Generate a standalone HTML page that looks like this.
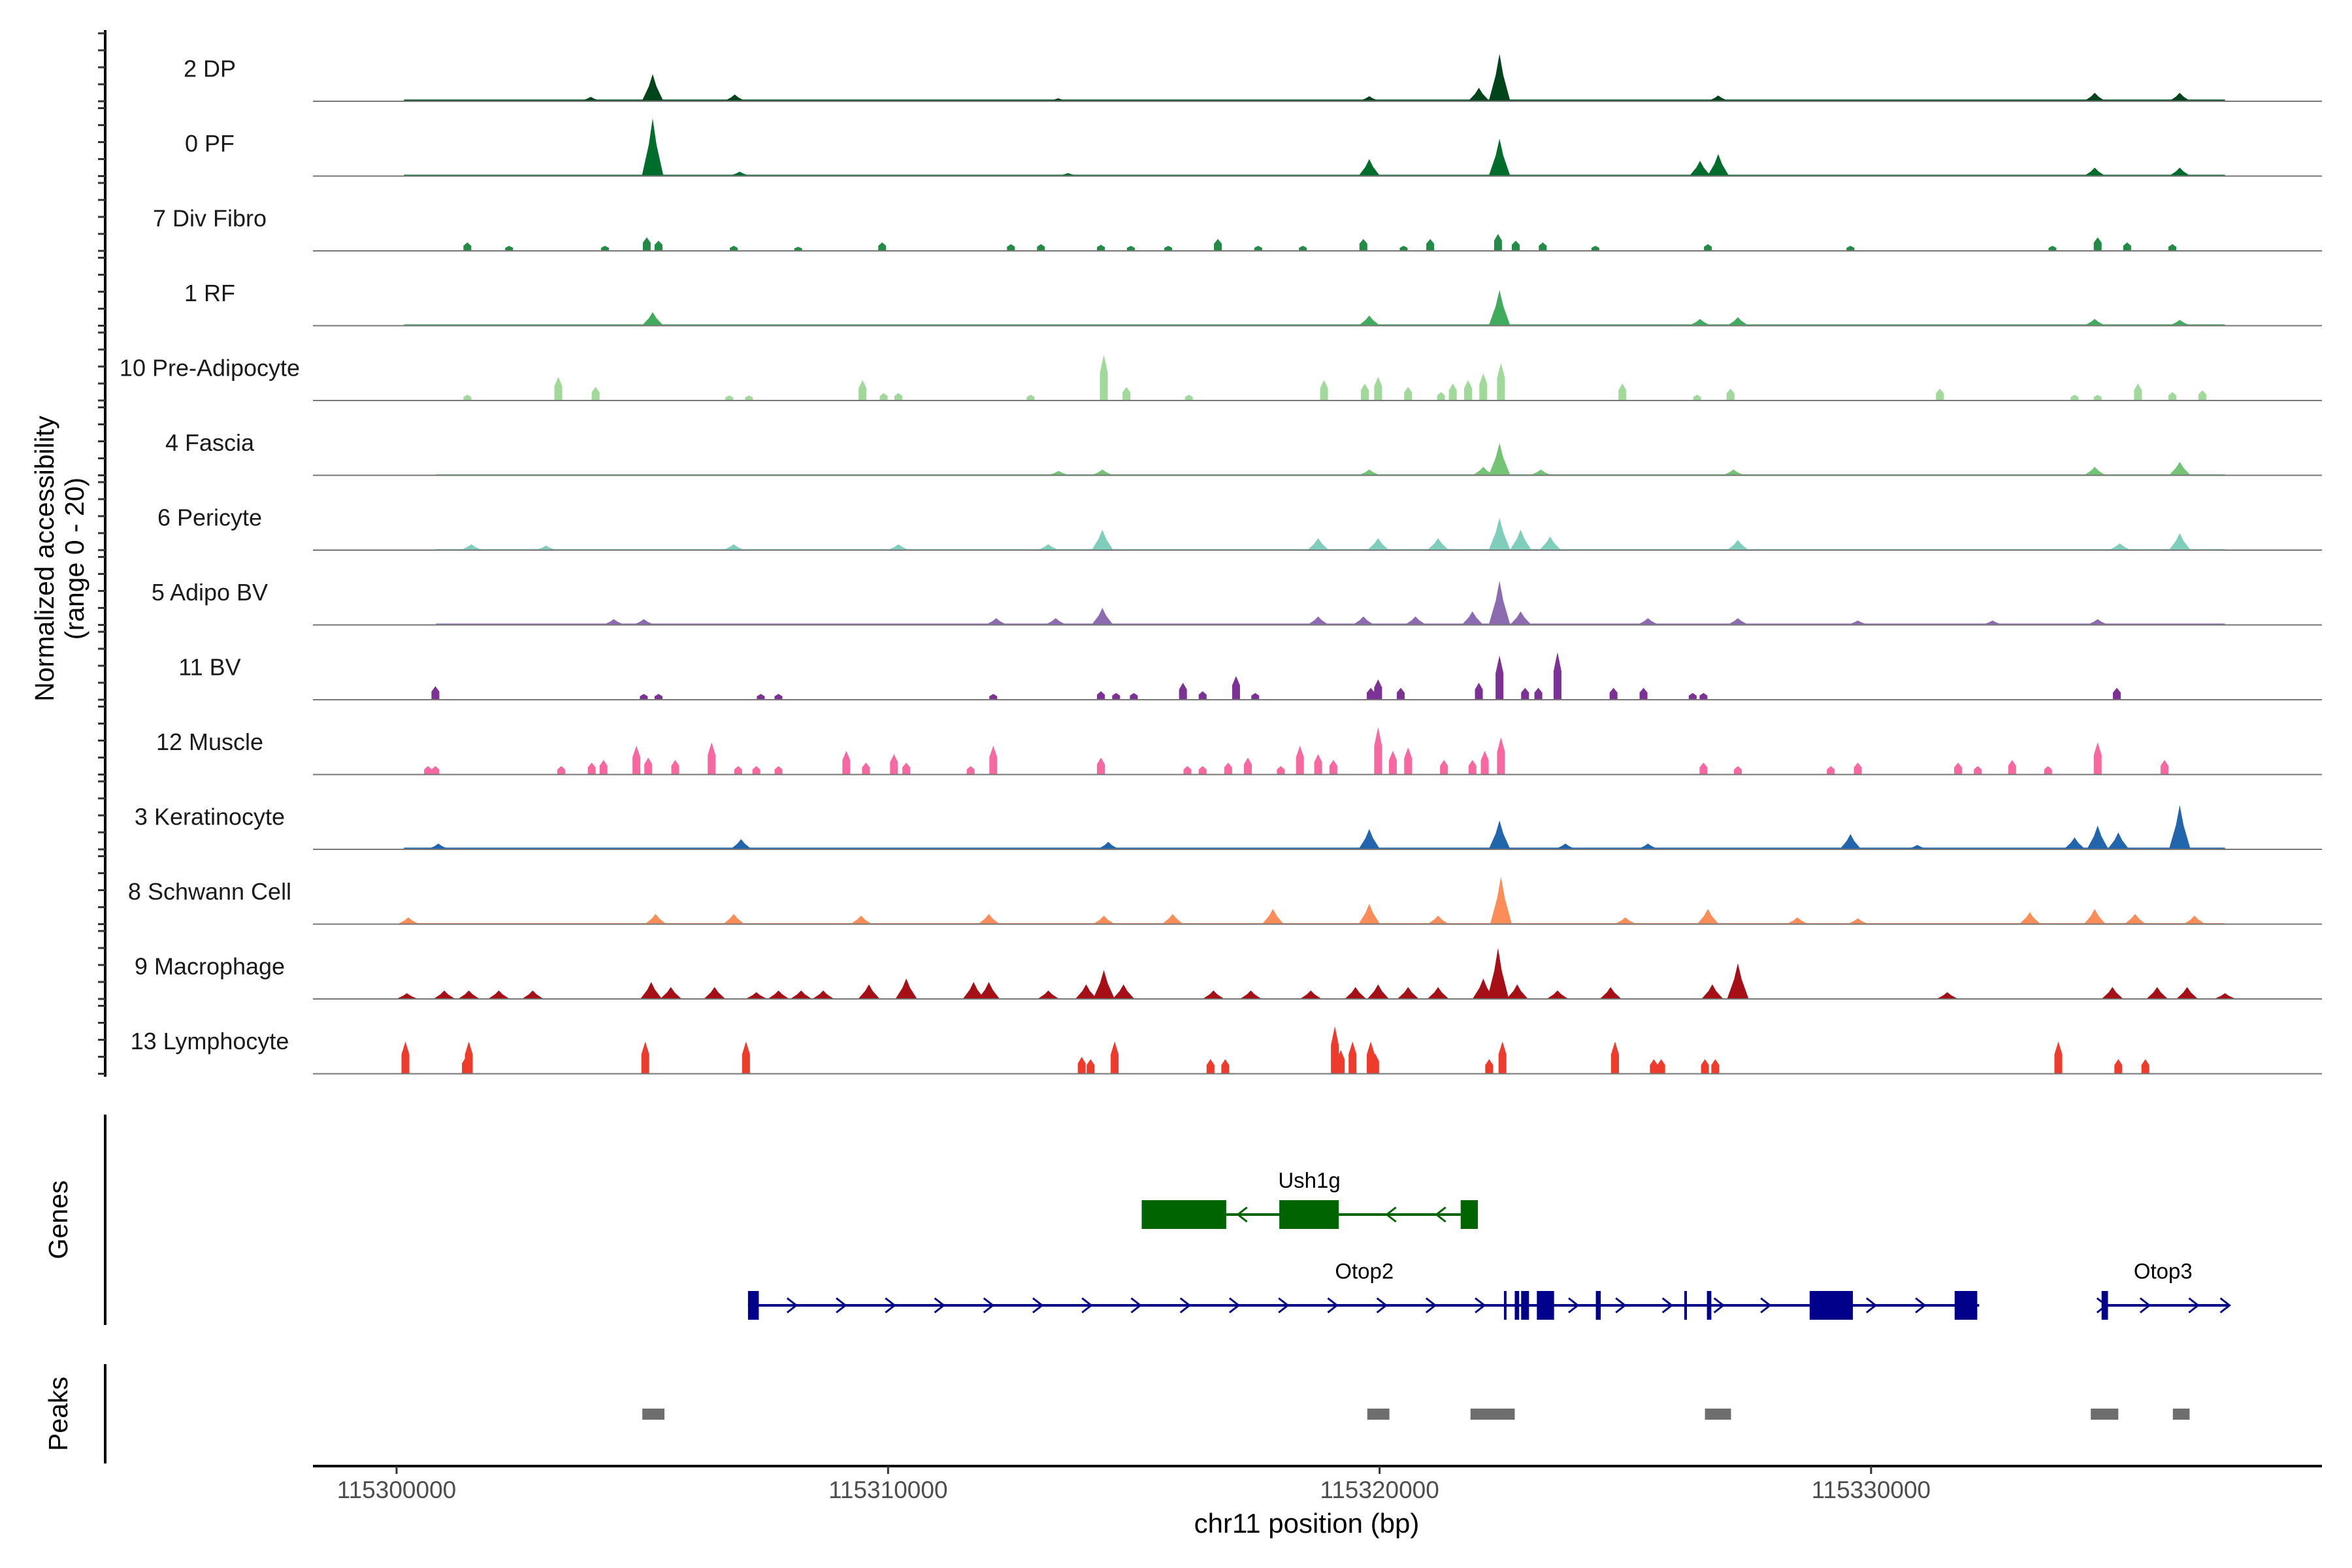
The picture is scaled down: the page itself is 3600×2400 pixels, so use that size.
<!DOCTYPE html>
<html><head><meta charset="utf-8"><style>
html,body{margin:0;padding:0;background:#fff}
svg{display:block;font-family:"Liberation Sans",sans-serif}
</style></head><body>
<svg id="chart" width="3600" height="2400" viewBox="0 0 3600 2400" xmlns="http://www.w3.org/2000/svg">
<g id="tracks"></g>
<g id="genes"></g>
<g id="peaks"></g>
<g id="axes"></g>
</svg>
<script>
// ---- data (positions in kb offset from 115300000, heights in accessibility units 0-20) ----
const trackNames = ["2 DP","0 PF","7 Div Fibro","1 RF","10 Pre-Adipocyte","4 Fascia","6 Pericyte","5 Adipo BV","11 BV","12 Muscle","3 Keratinocyte","8 Schwann Cell","9 Macrophage","13 Lymphocyte"];
const trackColors = ["#00441b","#006d2c","#238b45","#41ab5d","#a1d99b","#74c476","#7fcdbb","#8c6bb1","#7b3294","#f768a1","#2166ac","#fc8d59","#a50f15","#ef3b2c"];
const bgRanges = [[0.15,37.2,0.5],[0.15,37.2,0.4],null,[0.15,37.2,0.4],null,[0.8,37.2,0.3],[0.8,37.2,0.3],[0.8,37.2,0.4],null,null,[0.15,37.2,0.5],[0.15,37.2,0.3],null,null];
const pos0 = [3.95,5.21,6.88,13.46,19.79,22.02,22.44,26.89,34.55,36.28];
const val0 = [1.3,8,2,0.9,1.5,4,14,1.7,2.5,2.5];
const pos1 = [5.21,6.98,13.66,19.79,22.44,26.52,26.89,34.55,36.28];
const val1 = [17,1.3,0.9,5,11,4.5,6.5,2.5,2.5];
const pos2 = [1.44,2.29,4.24,5.09,5.33,6.86,8.17,9.88,12.5,13.11,14.33,14.94,15.7,16.71,17.53,18.44,19.67,20.49,21.03,22.41,22.77,23.32,24.39,26.68,29.58,33.69,34.61,35.21,36.13];
const val2 = [2.5,1.5,1.5,4,3,1.5,1.2,2.5,2,2,1.8,1.5,1.5,3.5,1.5,1.5,3.5,1.5,3.5,5,3,2.5,1.5,2,1.5,1.5,4,2.5,2];
const pos3 = [5.21,19.79,22.44,26.52,27.29,34.55,36.28];
const val3 = [4,3,10.5,2,2.5,2,1.7];
const pos4 = [1.44,3.29,4.05,6.77,7.17,9.48,9.91,10.21,12.9,14.39,14.85,16.12,18.87,19.7,19.97,20.58,21.25,21.49,21.8,22.11,22.47,24.94,26.46,27.14,31.4,34.14,34.61,35.43,36.13,36.74];
const val4 = [1.7,7,4,1.5,1.5,6,2.2,2.2,1.7,13.5,4,1.7,6,5,7,4,2.5,5,6,8,11,5,1.7,3.5,3.5,1.7,1.7,5,2.5,3];
const pos5 = [13.47,14.36,19.79,22.11,22.44,23.28,27.2,34.55,36.28];
const val5 = [1.3,1.7,1.7,2.5,9.5,1.7,1.7,2.5,4];
const pos6 = [1.52,3.04,6.86,10.21,13.26,14.36,18.75,19.97,21.19,22.44,22.87,23.47,27.29,35.06,36.28];
const val6 = [1.7,1.3,1.7,1.7,1.7,6,3.5,3.5,3.5,9.5,6,4,3,2,5];
const pos7 = [4.42,5.03,12.2,13.41,14.36,18.75,19.67,20.73,21.89,22.44,22.87,25.46,27.29,29.73,32.47,34.61];
const val7 = [1.7,1.7,2,2,5,2.5,2.5,2.5,4,13,4,2,2,1.3,1.3,1.7];
const pos8 = [0.79,5.03,5.33,7.41,7.77,12.14,14.33,14.64,15.0,16.0,16.4,17.08,17.47,19.82,19.97,20.43,22.02,22.44,22.96,23.23,23.62,24.76,25.37,26.37,26.59,35.0];
const val8 = [4,1.7,1.7,1.7,1.7,1.7,2.5,2,2,5,2.5,7,2,3.5,6,3.5,5,13,3.5,3.5,14,3.5,3.5,2,2,3.5];
const pos9 = [0.64,0.79,3.35,3.97,4.21,4.88,5.12,5.67,6.41,6.95,7.32,7.77,9.15,9.55,10.12,10.37,11.68,12.14,14.33,16.09,16.4,16.92,17.32,17.99,18.38,18.75,19.06,19.97,20.27,20.58,21.31,21.89,22.14,22.47,26.59,27.29,29.18,29.73,31.77,32.17,32.87,33.6,34.61,35.97];
const val9 = [2.5,2.5,2.5,3.5,4.3,8.5,5,4.3,9.5,2.5,2.5,2.5,7,3.5,6,3.5,2.5,8.5,5,2.5,2.5,3.5,5,2.5,8.5,6,4.3,14,7,8,4.3,4.3,7,11,3.5,2.5,2.5,3.5,3.5,2.5,4.3,2.5,9.5,4.3];
const pos10 = [0.85,7.01,14.48,19.79,22.44,23.78,25.46,29.58,30.94,34.14,34.61,35.03,36.28];
const val10 = [1.7,3,2.2,6,8.5,1.7,1.7,4.5,1.3,3.5,7,5,13];
const pos11 = [0.24,5.27,6.86,9.45,12.05,14.39,15.79,17.83,19.79,21.19,22.47,25.0,26.68,28.5,29.73,33.23,34.55,35.37,36.58];
const val11 = [2,3,3,2.5,3,2.5,3,4.5,6,2.5,14,2,4.5,2,1.7,3.5,4.5,3,2.5];
const pos12 = [0.21,0.97,1.47,2.08,2.77,5.18,5.58,6.47,7.32,7.77,8.23,8.68,9.61,10.37,11.74,12.05,13.26,14.03,14.39,14.79,16.62,17.38,18.6,19.51,19.97,20.58,21.19,22.11,22.41,22.8,23.62,24.7,26.77,27.29,31.55,34.91,35.82,36.43,37.2];
const val12 = [1.7,2.5,2.5,2.5,2.5,5,3.5,3.5,2,2.5,2.5,2.5,4.3,6,5,5,2.5,4.3,8.5,4.3,2.5,2.5,2.5,3.5,4.3,3.5,3.5,6,15,4.3,2.5,3.5,4.3,10.5,2,3.5,3.5,3.5,1.7];
const pos13 = [0.18,1.41,1.47,5.06,7.11,13.94,14.12,14.61,16.56,16.86,19.09,19.21,19.45,19.82,19.91,22.23,22.5,24.79,25.58,25.73,26.62,26.83,33.81,35.03,35.58];
const val13 = [9.5,5,9.5,9.5,9.5,5,4.3,9.5,4.3,4.3,14,7,9.5,9.5,6,4.3,9.5,9.5,4.3,4.3,4.3,4.3,9.5,4.3,4.3];
const trackPos = [pos0,pos1,pos2,pos3,pos4,pos5,pos6,pos7,pos8,pos9,pos10,pos11,pos12,pos13];
const trackVal = [val0,val1,val2,val3,val4,val5,val6,val7,val8,val9,val10,val11,val12,val13];
const peakStarts = [5.0,19.75,21.85,26.62,34.47,36.14];
const peakEnds = [5.45,20.2,22.75,27.15,35.03,36.48];
const xTicks = [115300000,115310000,115320000,115330000];

// ---- scales ----
const NS="http://www.w3.org/2000/svg";
const X0=607, PXKB=75.23;
const xs = kb => X0 + kb*PXKB;
const BASE0=155, STEP=114.5, UNIT=5.2;
const ys = (i,v) => BASE0 + i*STEP - v*UNIT;
function mk(tag, attrs, parent){const e=document.createElementNS(NS,tag);for(const k in attrs)e.setAttribute(k,attrs[k]);parent.appendChild(e);return e;}

const tracks=document.getElementById('tracks');
const sparse=[2,4,8,9,13];
trackNames.forEach((name,i)=>{
  const g=mk('g',{},tracks);
  
  
  const base=ys(i,0);
  const lab=mk('text',{x:321,y:base-47,'text-anchor':'middle','font-size':36,fill:'#1a1a1a','dominant-baseline':'middle'},g);
  lab.textContent=name;
  
  
  const bg=bgRanges[i];
  if(bg){
    const r=mk('rect',{x:xs(bg[0]),y:ys(i,bg[2]),width:xs(bg[1])-xs(bg[0]),height:bg[2]*UNIT,fill:trackColors[i]},g);
    
    
  }
  const P=trackPos[i], V=trackVal[i];
  P.forEach((p,j)=>{
    const v=V[j]; const cx=xs(p); let d;
    if(sparse.includes(i)){
      const hw=0.08*PXKB;
      d=`M${cx-hw},${base} L${cx-hw},${ys(i,v*0.6)} L${cx},${ys(i,v)} L${cx+hw},${ys(i,v*0.6)} L${cx+hw},${base} Z`;
    } else {
      const hw=0.22*PXKB;
      d=`M${cx-hw},${base} L${cx-hw*0.35},${ys(i,v*0.55)} L${cx},${ys(i,v)} L${cx+hw*0.35},${ys(i,v*0.55)} L${cx+hw},${base} Z`;
    }
    const pk=mk('path',{d:d,fill:trackColors[i]},g);
    
    
  });
  const bl=mk('line',{x1:479,x2:3554,y1:base,y2:base,stroke:'#777','stroke-width':2},g);
  
  
});

// ---- axes ----
const axes=document.getElementById('axes');
const yl=mk('line',{x1:161,x2:161,y1:46,y2:1648,stroke:'#000','stroke-width':4},axes);


for(let i=0;i<14;i++){for(let k=0;k<=4;k++){
  const y=ys(i,k*5);
  const t=mk('line',{x1:150,x2:161,y1:y,y2:y,stroke:'#333','stroke-width':3},axes);
  
  
}}
const yt=mk('text',{transform:'translate(82,855) rotate(-90)','text-anchor':'middle','font-size':41,fill:'#000'},axes);


yt.innerHTML='<tspan x="0" dy="0">Normalized accessibility</tspan><tspan x="0" dy="46">(range 0 - 20)</tspan>';
[['Genes',1706,2028],['Peaks',2088,2240]].forEach(([t,a,b])=>{
  const l=mk('line',{x1:161,x2:161,y1:a,y2:b,stroke:'#000','stroke-width':4},axes);
  
  
  const tx=mk('text',{transform:`translate(103,${(a+b)/2}) rotate(-90)`,'text-anchor':'middle','font-size':41,fill:'#000'},axes);
  tx.textContent=t;
  
  
});
const xl=mk('line',{x1:479,x2:3554,y1:2244,y2:2244,stroke:'#000','stroke-width':4},axes);


xTicks.forEach(v=>{
  const x=xs((v-115300000)/1000);
  const t=mk('line',{x1:x,x2:x,y1:2244,y2:2256,stroke:'#333','stroke-width':3},axes);
  
  
  const tl=mk('text',{x:x,y:2293,'text-anchor':'middle','font-size':37,fill:'#4d4d4d'},axes);
  tl.textContent=v;
  
  
});
const xt=mk('text',{x:2000,y:2346,'text-anchor':'middle','font-size':42,fill:'#000'},axes);
xt.textContent='chr11 position (bp)';



// ---- genes ----
const genes=document.getElementById('genes');
function gene(name,color,y,lineA,lineB,exons,dir,arrows,labelKb){
  const g=mk('g',{},genes);
  
  
  mk('line',{x1:xs(lineA),x2:xs(lineB),y1:y,y2:y,stroke:color,'stroke-width':4},g);
  arrows.forEach(a=>{const x=xs(a);const s=dir*7;
    mk('path',{d:`M${x-s},${y-11} L${x+s},${y} L${x-s},${y+11}`,fill:'none',stroke:color,'stroke-width':3},g);});
  exons.forEach(e=>{const r=mk('rect',{x:xs(e[0]),y:y-22,width:Math.max(4,xs(e[1])-xs(e[0])),height:44,fill:color},g);
    
    });
  const t=mk('text',{x:xs(labelKb),y:y-41,'text-anchor':'middle','font-size':33,fill:'#000'},g);
  t.textContent=name;
  
  
}
gene('Ush1g','#006400',1859,16.88,21.65,[[15.16,16.88],[17.96,19.17],[21.65,22.0]],-1,[17.21,20.24,21.25],18.57);
const otopArrows=[];for(let a=8.04;a<22.2;a+=1.0)otopArrows.push(a);
otopArrows.push(23.94,24.9,25.85,26.9,27.85,30.0,31.0);
gene('Otop2','#00008b',1998,7.15,32.2,[[7.15,7.37],[22.53,22.58],[22.75,22.84],[22.88,23.04],[23.2,23.55],[24.4,24.5],[26.2,26.25],[26.66,26.75],[28.75,29.63],[31.7,32.16]],1,otopArrows,19.69);
gene('Otop3','#00008b',1998,34.69,37.26,[[34.69,34.82]],1,[34.69,35.57,36.56,37.2],35.94);

// ---- peaks ----
const peaks=document.getElementById('peaks');
peakStarts.forEach((s,i)=>{
  const r=mk('rect',{x:xs(s),y:2156,width:xs(peakEnds[i])-xs(s),height:17,fill:'#6e6e6e'},peaks);
  
  
});
</script>
</body></html>
